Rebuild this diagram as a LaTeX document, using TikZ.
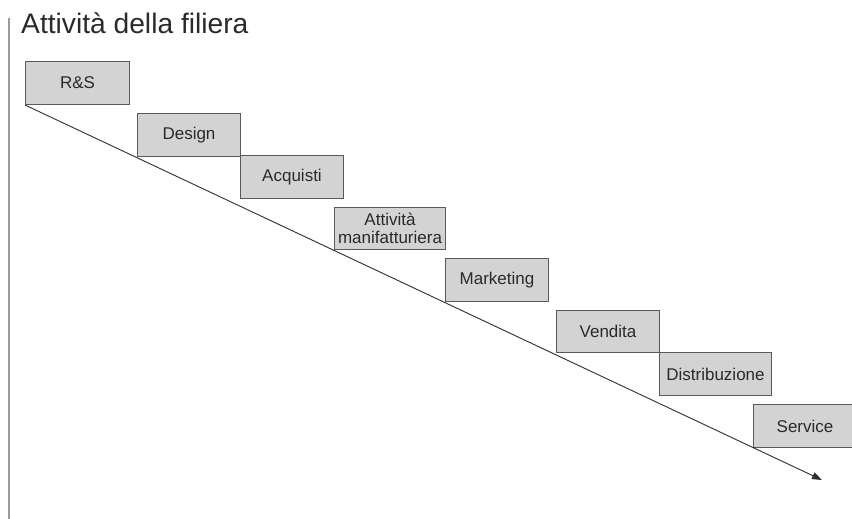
\documentclass[tikz,border=0pt]{standalone}
\usepackage{fontspec}
\setmainfont{Liberation Sans}
\usetikzlibrary{arrows.meta}
\definecolor{boxfill}{HTML}{D3D3D3}
\definecolor{boxline}{HTML}{5A5A5A}
\definecolor{arrowline}{HTML}{2E2E2E}
\definecolor{sideline}{HTML}{9A9A9A}
\definecolor{textcol}{HTML}{2A2A2A}
\begin{document}
\begin{tikzpicture}[x=1pt,y=-1pt,
  stepbox/.style={draw=boxline, line width=1pt, fill=boxfill, anchor=north west,
    inner sep=0pt, minimum height=43pt, text=textcol,
    font=\fontsize{17}{18}\selectfont, align=center},
  flow/.style={draw=arrowline, line width=0.9pt, -{Triangle[length=10pt,width=7pt]}}]
\useasboundingbox (0,0) rectangle (852,519);
\draw[sideline, line width=1.6pt] (9,18) -- (9,519);
\node[anchor=base west, inner sep=0pt, text=textcol, font=\fontsize{28.2}{30}\selectfont] (title) at (21,34) {Attività della filiera};
\node[stepbox, minimum width=104pt] (rs) at (25,61) {R\&S};
\node[stepbox, minimum width=103pt] (design) at (137,113) {Design};
\node[stepbox, minimum width=103pt] (acq) at (240,155) {Acquisti};
\node[stepbox, minimum width=111pt, minimum height=42pt] (man) at (334,207) {Attività\\manifatturiera};
\node[stepbox, minimum width=103pt] (mkt) at (445,258) {Marketing};
\node[stepbox, minimum width=103pt, minimum height=42pt] (ven) at (556,310) {Vendita};
\node[stepbox, minimum width=112pt] (dist) at (659,352) {Distribuzione};
\node[stepbox, minimum width=103pt] (serv) at (753,404) {Service};
\coordinate (end) at (822,480);
\draw[flow] (rs.south west) -- (end);
\end{tikzpicture}
\end{document}
